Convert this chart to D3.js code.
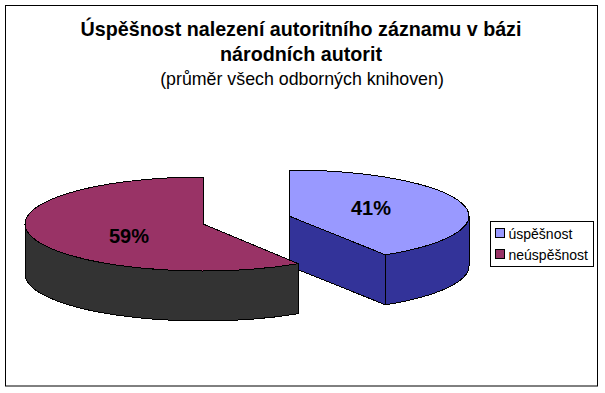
<!DOCTYPE html>
<html>
<head>
<meta charset="utf-8">
<script src="https://cdnjs.cloudflare.com/ajax/libs/d3/7.8.5/d3.min.js"></script>
<style>
html, body { margin: 0; padding: 0; background: #fff; }
svg { display: block; }
text { font-family: "Liberation Sans", Arial, sans-serif; fill: #000; }
</style>
</head>
<body>
<div id="chart"></div>
<script>
var categories = ["úspěšnost", "neúspěšnost"];
var values = [41, 59];
var labels = ["41%", "59%"];
var titleLines = ["Úspěšnost nalezení autoritního záznamu v bázi", "národních autorit"];
var subtitle = "(průměr všech odborných knihoven)";

var width = 605, height = 393;
var depth = 50;

//Colours of the top faces and of the side walls
var topColor = d3.scaleOrdinal().domain(categories).range(["#9999ff", "#993366"]);
var wallColor = d3.scaleOrdinal().domain(categories).range(["#333399", "#333333"]);

//Each exploded slice has its own centre on the tilted pie
var centers = [{x: 289, y: 216, rx: 180, ry: 46}, {x: 203, y: 224, rx: 178, ry: 47}];
var labelPos = [{x: 371, y: 215}, {x: 129, y: 243}];

var svg = d3.select("#chart").append("svg").attr("width", width).attr("height", height);

//Chart frame
svg.append("rect")
  .attr("x", 5.5).attr("y", 5.5)
  .attr("width", 592).attr("height", 380.5)
  .attr("fill", "#fff").attr("stroke", "#000");

//Title
svg.selectAll(".title")
  .data(titleLines)
  .enter().append("text")
  .attr("class", "title")
  .attr("x", 301)
  .attr("y", function(d, i) { return 36 + i * 25; })
  .attr("text-anchor", "middle")
  .attr("font-size", "19.7px")
  .attr("font-weight", "bold")
  .text(function(d) { return d; });

svg.append("text")
  .attr("x", 302).attr("y", 85)
  .attr("text-anchor", "middle")
  .attr("font-size", "17.8px")
  .text(subtitle);

var pie = d3.pie().sort(null)(values);

//Point on the rim of a slice's ellipse
function rim(c, a, drop) {
  return [c.x + c.rx * Math.sin(a), c.y - c.ry * Math.cos(a) + (drop || 0)];
}

//Elliptical arc from the current point to angle a, clockwise or back
function arcTo(c, a, drop, large, sweep) {
  var p = rim(c, a, drop);
  return "A" + c.rx + "," + c.ry + " 0 " + large + " " + sweep + " " + p[0] + "," + p[1];
}

var slices = svg.selectAll(".slice")
  .data(pie)
  .enter().append("g")
  .attr("class", "slice")
  .attr("stroke", "#000")
  .attr("shape-rendering", "crispEdges");

//Straight cut wall, only the first slice shows it
slices.filter(function(d) { return d.index == 0; }).append("path")
  .attr("fill", function(d) { return wallColor(categories[d.index]); })
  .attr("d", function(d) {
    var c = centers[d.index];
    var p = rim(c, d.endAngle);
    return "M" + c.x + "," + c.y + "L" + p + "L" + p[0] + "," + (p[1] + depth) +
      "L" + c.x + "," + (c.y + depth) + "Z";
  });

//Curved outer wall, the part of the rim that faces the viewer
slices.append("path")
  .attr("fill", function(d) { return wallColor(categories[d.index]); })
  .attr("d", function(d) {
    var c = centers[d.index];
    var a0 = Math.max(d.startAngle, Math.PI / 2);
    var a1 = Math.min(d.endAngle, Math.PI * 1.5);
    return "M" + rim(c, a0) + arcTo(c, a1, 0, 0, 1) + "L" + rim(c, a1, depth) + arcTo(c, a0, depth, 0, 0) + "Z";
  });

//Top face
slices.append("path")
  .attr("fill", function(d) { return topColor(categories[d.index]); })
  .attr("d", function(d) {
    var c = centers[d.index];
    var large = d.endAngle - d.startAngle > Math.PI ? 1 : 0;
    return "M" + c.x + "," + c.y + "L" + rim(c, d.startAngle) + arcTo(c, d.endAngle, 0, large, 1) + "Z";
  });

//Percent labels
svg.selectAll(".pct")
  .data(labels)
  .enter().append("text")
  .attr("class", "pct")
  .attr("x", function(d, i) { return labelPos[i].x; })
  .attr("y", function(d, i) { return labelPos[i].y; })
  .attr("text-anchor", "middle")
  .attr("font-size", "20px")
  .attr("font-weight", "bold")
  .text(function(d) { return d; });

//Legend
var legend = svg.append("g").attr("transform", "translate(490.5,221.5)");
legend.append("rect")
  .attr("width", 103).attr("height", 45)
  .attr("fill", "#fff").attr("stroke", "#000");

var rows = legend.selectAll(".row")
  .data(categories)
  .enter().append("g")
  .attr("class", "row")
  .attr("transform", function(d, i) { return "translate(5," + (7 + i * 21) + ")"; });

rows.append("rect")
  .attr("width", 9).attr("height", 9)
  .attr("fill", function(d) { return topColor(d); })
  .attr("stroke", "#000");

rows.append("text")
  .attr("x", 13).attr("y", 10)
  .attr("font-size", "14px")
  .text(function(d) { return d; });
</script>
</body>
</html>
